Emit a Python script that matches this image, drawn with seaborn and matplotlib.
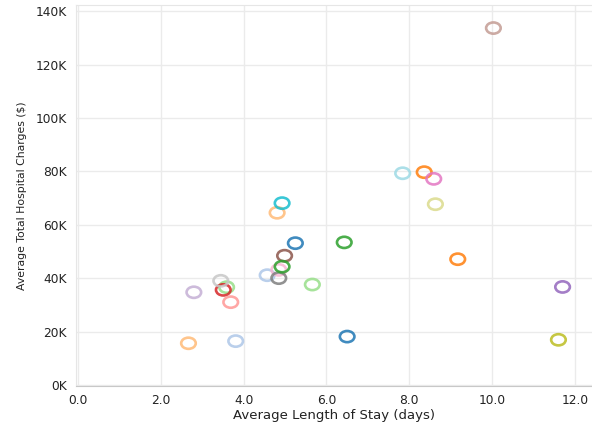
import pandas as pd
import matplotlib
matplotlib.use("Agg")
import matplotlib.pyplot as plt
import matplotlib.ticker as mticker
from matplotlib.path import Path
from matplotlib.transforms import Affine2D
import seaborn as sns

# one point per group, coloured with the 20-colour category palette
groups = ["Group " + c for c in "ABCDEFGHIJKLMNOPQRSTUVWXYZ"]
avg_stay = [5.25, 4.57, 8.36, 4.81, 6.43, 3.59, 3.51, 3.69, 11.70, 2.80,
            4.99, 10.03, 8.59, 4.85, 4.85, 3.45, 11.60, 8.63, 4.93, 7.84,
            6.50, 3.81, 9.17, 2.67, 4.93, 5.66]
avg_charges = [53100, 41100, 79700, 64500, 53400, 36600, 35600, 31000, 36700, 34700,
               48400, 133700, 77200, 43100, 40000, 39000, 16900, 67700, 68100, 79300,
               18100, 16400, 47100, 15600, 44300, 37600]

df = pd.DataFrame({"group": groups, "stay": avg_stay, "charges": avg_charges})

sns.set_style("white")
plt.rcParams["font.family"] = ["DejaVu Sans"]

fig = plt.figure(figsize=(5.92, 4.26), dpi=100)
ax = fig.add_axes([0.128, 0.094, 0.872, 0.894])

tab20 = sns.color_palette("tab20", 20)
palette = [tab20[i % 20] for i in range(len(groups))]

# the screenshot is a bit wide, so the rings come out as flat ellipses
ring = Path.unit_circle().transformed(Affine2D().scale(1.3, 1.0))

sns.scatterplot(data=df, x="stay", y="charges", hue="group", hue_order=groups,
                palette=palette, marker=ring, s=110, linewidth=1.9,
                legend=False, ax=ax)

# open circles: move the fill colour to the edge
pts = ax.collections[0]
fc = pts.get_facecolors()
pts.set_edgecolors(fc)
pts.set_facecolors("none")
pts.set_alpha(0.85)

ax.set_xlim(-0.05, 12.41)
ax.set_ylim(-400, 142300)
ax.set_xticks([0, 2, 4, 6, 8, 10, 12])
ax.set_yticks(range(0, 140001, 20000))
ax.xaxis.set_major_formatter(mticker.FuncFormatter(lambda v, p: f"{v:.1f}"))
ax.yaxis.set_major_formatter(mticker.FuncFormatter(lambda v, p: f"{v/1000:.0f}K"))

ax.grid(True, color="#ebebeb", linewidth=1.0)
ax.set_axisbelow(True)
for side in ["top", "left"]:
    ax.spines[side].set_color("#e6e6e6")
ax.spines["right"].set_visible(False)
ax.spines["bottom"].set_color("#c8c8c8")
ax.tick_params(axis="both", length=3.5, width=1, color="#c8c8c8",
               labelsize=8.8, labelcolor="#222222", pad=3)
ax.tick_params(axis="x", pad=2)

ax.set_xlabel("Average Length of Stay (days)", fontsize=9.5, color="#222222", labelpad=2)
ax.set_ylabel("Average Total Hospital Charges ($)", fontsize=7.8, color="#222222", labelpad=6)

fig.savefig("out.png", dpi=100, facecolor="white")
